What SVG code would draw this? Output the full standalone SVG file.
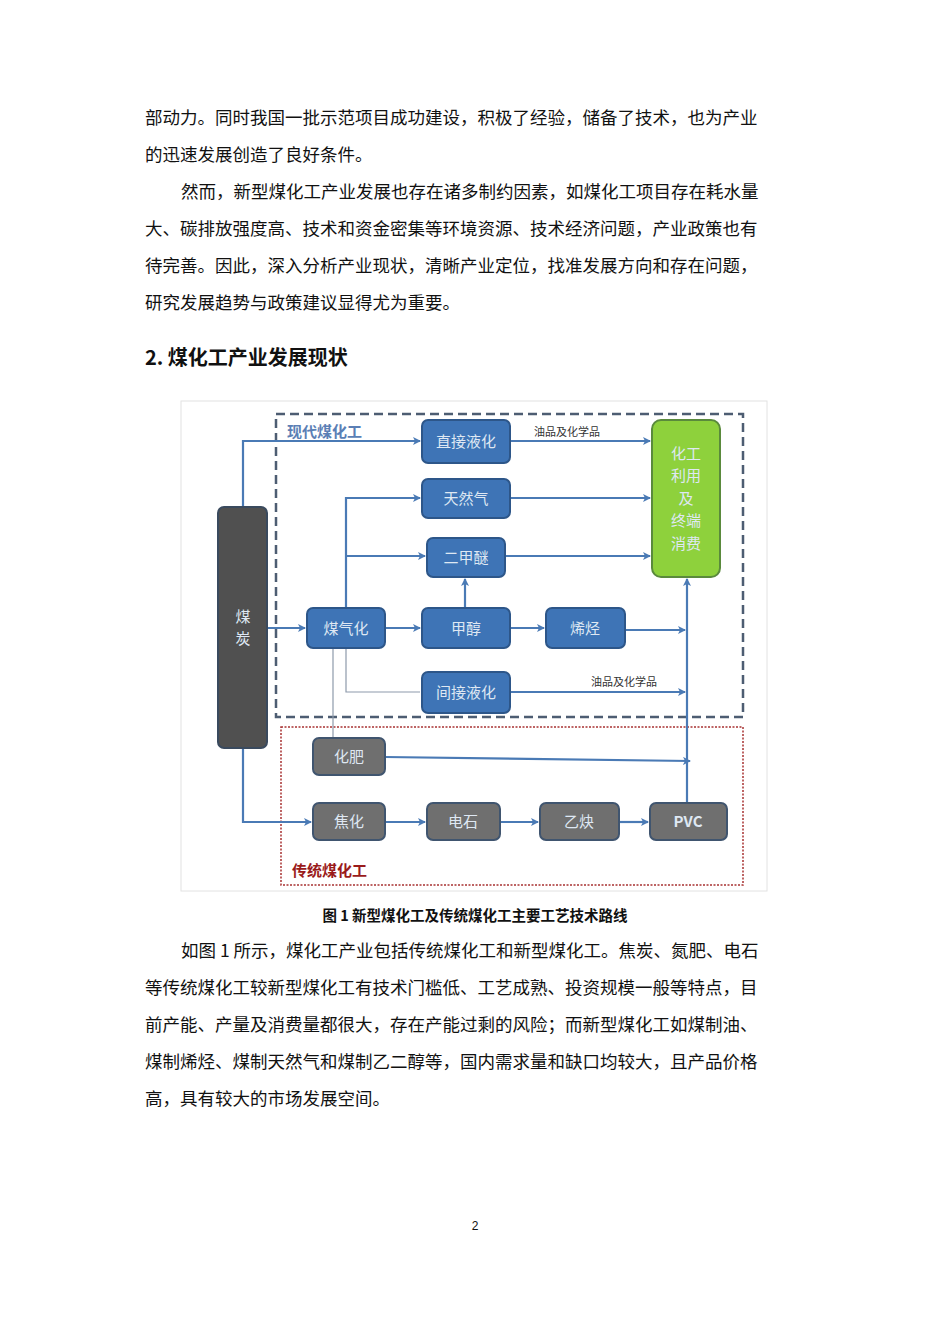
<svg xmlns="http://www.w3.org/2000/svg" width="950" height="1344" viewBox="0 0 950 1344">
<style>
.p{font-family:"Noto Sans CJK SC","Liberation Serif",serif;font-size:17.5px;fill:#111}
.h{font-family:"Noto Sans CJK SC",sans-serif;font-size:20px;font-weight:bold;fill:#111}
.b{fill:#3e74b6;stroke:#2d5689;stroke-width:2}
.g{fill:#6f6f6f;stroke:#40556f;stroke-width:2}
.t{font-family:"Noto Sans CJK SC",sans-serif;font-size:15px;fill:#dfe8f3;text-anchor:middle}
.l{stroke:#4a7ab5;stroke-width:2.2;fill:none}
.thin{stroke:#8e9aab;stroke-width:1.2;fill:none}
.s{font-family:"Noto Sans CJK SC",sans-serif;font-size:11px;fill:#333}
</style>
<defs><marker id="a" markerWidth="8" markerHeight="8" refX="7" refY="4" orient="auto" markerUnits="userSpaceOnUse"><path d="M0,0 L8,4 L0,8 L2,4z" fill="#4a7ab5"/></marker></defs>
<rect width="950" height="1344" fill="#fff"/>
<text class="p" x="145" y="124">部动力。同时我国一批示范项目成功建设，积极了经验，储备了技术，也为产业</text>
<text class="p" x="145" y="161">的迅速发展创造了良好条件。</text>
<text class="p" x="181" y="198">然而，新型煤化工产业发展也存在诸多制约因素，如煤化工项目存在耗水量</text>
<text class="p" x="145" y="235">大、碳排放强度高、技术和资金密集等环境资源、技术经济问题，产业政策也有</text>
<text class="p" x="145" y="272">待完善。因此，深入分析产业现状，清晰产业定位，找准发展方向和存在问题，</text>
<text class="p" x="145" y="309">研究发展趋势与政策建议显得尤为重要。</text>
<text class="h" x="145" y="365">2.  煤化工产业发展现状</text>
<rect x="181" y="401" width="586" height="490" fill="#fff" stroke="#e2e2e2"/>
<rect x="276" y="414" width="467" height="303" fill="none" stroke="#4d5d72" stroke-width="2.5" stroke-dasharray="9,5"/>
<rect x="281" y="727" width="462" height="158" fill="none" stroke="#a83232" stroke-width="1.5" stroke-dasharray="2,1.5"/>
<text x="287" y="437" font-family="Noto Sans CJK SC,serif" font-size="15" font-weight="bold" fill="#5b7fb5">现代煤化工</text>
<text x="292" y="876" font-family="Noto Sans CJK SC,serif" font-size="15" font-weight="bold" fill="#9a1b1b">传统煤化工</text>
<g id="connectors">
<path class="l" d="M243,507 V441 H420" marker-end="url(#a)"/>
<path class="l" d="M510,441 H650" marker-end="url(#a)"/>
<path class="l" d="M510,498 H650" marker-end="url(#a)"/>
<path class="l" d="M505,556 H650" marker-end="url(#a)"/>
<path class="l" d="M346,608 V498 H420" marker-end="url(#a)"/>
<path class="l" d="M346,556 H425" marker-end="url(#a)"/>
<path class="l" d="M267,628 H305" marker-end="url(#a)"/>
<path class="l" d="M385,628 H420" marker-end="url(#a)"/>
<path class="l" d="M465,608 V579" marker-end="url(#a)"/>
<path class="l" d="M510,628 H544" marker-end="url(#a)"/>
<path class="l" d="M625,630 H685" marker-end="url(#a)"/>
<path class="thin" d="M346,648 V692 H420"/>
<path class="l" d="M510,692 H685" marker-end="url(#a)"/>
<path class="thin" d="M333,648 V737"/>
<path class="l" d="M385,757 L690,761" marker-end="url(#a)"/>
<path class="l" d="M687,803 V579" marker-end="url(#a)"/>
<path class="l" d="M243,748 V822 H311" marker-end="url(#a)"/>
<path class="l" d="M385,822 H425" marker-end="url(#a)"/>
<path class="l" d="M500,822 H538" marker-end="url(#a)"/>
<path class="l" d="M619,822 H648" marker-end="url(#a)"/>
<text class="s" x="534" y="436">油品及化学品</text>
<text class="s" x="591" y="686">油品及化学品</text>
</g>
<g id="coal"><rect x="218" y="507" width="49" height="241" rx="6" fill="#505050" stroke="#3a4a5e" stroke-width="2"/><text class="t" x="243" y="622">煤</text><text class="t" x="243" y="644">炭</text></g>
<g id="n1"><rect class="b" x="422" y="420" width="88" height="43" rx="6"/><text class="t" x="466" y="447">直接液化</text></g>
<g id="n2"><rect class="b" x="422" y="479" width="88" height="39" rx="6"/><text class="t" x="466" y="504">天然气</text></g>
<g id="n3"><rect class="b" x="427" y="538" width="78" height="39" rx="6"/><text class="t" x="466" y="563">二甲醚</text></g>
<g id="n4"><rect class="b" x="307" y="608" width="78" height="40" rx="6"/><text class="t" x="346" y="634">煤气化</text></g>
<g id="n5"><rect class="b" x="422" y="608" width="88" height="40" rx="6"/><text class="t" x="466" y="634">甲醇</text></g>
<g id="n6"><rect class="b" x="546" y="608" width="79" height="40" rx="6"/><text class="t" x="585" y="634">烯烃</text></g>
<g id="n7"><rect class="b" x="422" y="672" width="88" height="41" rx="6"/><text class="t" x="466" y="698">间接液化</text></g>
<g id="n8"><rect x="652" y="420" width="68" height="157" rx="9" fill="#8ed13c" stroke="#5a8a3c" stroke-width="2"/>
<text class="t" x="686" y="459" fill="#eef7e0">化工</text><text class="t" x="686" y="481">利用</text><text class="t" x="686" y="504">及</text><text class="t" x="686" y="526">终端</text><text class="t" x="686" y="549">消费</text></g>
<g id="n9"><rect class="g" x="313" y="738" width="72" height="37" rx="6"/><text class="t" x="349" y="762">化肥</text></g>
<g id="n10"><rect class="g" x="313" y="803" width="72" height="37" rx="6"/><text class="t" x="349" y="827">焦化</text></g>
<g id="n11"><rect class="g" x="427" y="803" width="73" height="37" rx="6"/><text class="t" x="463" y="827">电石</text></g>
<g id="n12"><rect class="g" x="540" y="803" width="79" height="37" rx="6"/><text class="t" x="579" y="827">乙炔</text></g>
<g id="n13"><rect class="g" x="650" y="803" width="77" height="37" rx="6"/><text class="t" x="688" y="827" font-weight="bold" font-size="13" font-family="Liberation Sans,sans-serif">PVC</text></g>
<text x="475" y="921" text-anchor="middle" font-family="Noto Sans CJK SC,sans-serif" font-size="14.5" font-weight="bold" fill="#111">图 1  新型煤化工及传统煤化工主要工艺技术路线</text>
<text class="p" x="181" y="957">如图 1 所示，煤化工产业包括传统煤化工和新型煤化工。焦炭、氮肥、电石</text>
<text class="p" x="145" y="994">等传统煤化工较新型煤化工有技术门槛低、工艺成熟、投资规模一般等特点，目</text>
<text class="p" x="145" y="1031">前产能、产量及消费量都很大，存在产能过剩的风险；而新型煤化工如煤制油、</text>
<text class="p" x="145" y="1068">煤制烯烃、煤制天然气和煤制乙二醇等，国内需求量和缺口均较大，且产品价格</text>
<text class="p" x="145" y="1105">高，具有较大的市场发展空间。</text>
<text x="475" y="1230" text-anchor="middle" font-family="Liberation Sans,sans-serif" font-size="12" fill="#111">2</text>
</svg>
